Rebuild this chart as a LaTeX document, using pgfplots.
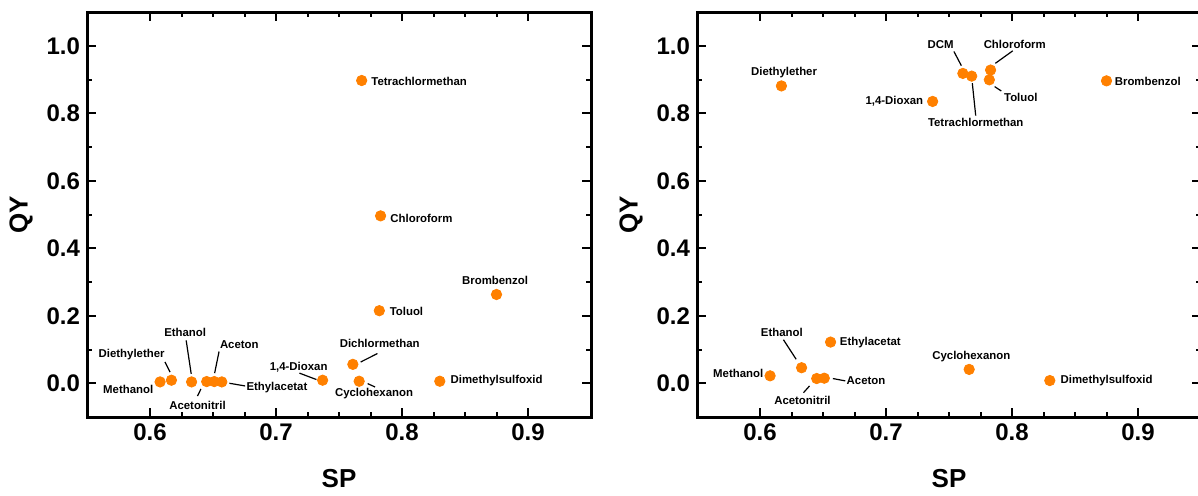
\documentclass[border=0pt]{standalone}
\usepackage{pgfplots}
\pgfplotsset{compat=1.18}
\usepackage{fontspec}
\setmainfont{Liberation Sans}
\definecolor{pt}{RGB}{255,128,0}
\pgfplotsset{
  myax/.style={
    scale only axis, width=252pt, height=202.5pt, anchor=south west,
    xmin=0.55, xmax=0.95, ymin=-0.1, ymax=1.1,
    xtick={0.6,0.7,0.8,0.9}, minor x tick num=3,
    ytick={0,0.2,0.4,0.6,0.8,1.0}, minor y tick num=1,
    tick align=inside,
    major tick length=4.5pt, minor tick length=2.5pt,
    axis line style={line width=1.5pt},
    every tick/.style={black, line width=1pt},
    /pgf/number format/assume math mode=true,
    ticklabel style={font=\bfseries\fontsize{12}{14}\selectfont},
    yticklabel style={/pgf/number format/.cd, fixed, fixed zerofill, precision=1},
    xticklabel style={/pgf/number format/.cd, fixed, precision=1},
    label style={font=\bfseries\fontsize{13}{15}\selectfont},
    xlabel style={yshift=-7.5pt},
    xlabel={SP}, ylabel={QY},
    clip=false,
  },
}
\tikzset{
  lab/.style={font=\bfseries\fontsize{5.7}{7}\selectfont, inner sep=0.5pt},
  ln/.style={line width=0.6pt, black},
}
\begin{document}
\begin{tikzpicture}
\begin{axis}[myax, at={(43.5pt,39pt)}]
\addplot[only marks, mark=*, mark size=2.6pt, color=pt] table {
x y
0.768 0.897
0.783 0.496
0.782 0.215
0.875 0.263
0.761 0.056
0.737 0.009
0.766 0.006
0.830 0.006
0.608 0.004
0.617 0.009
0.633 0.004
0.645 0.005
0.651 0.005
0.657 0.004
};
\node[lab, anchor=west] at (axis cs:0.7746,0.894) {Tetrachlormethan};
\node[lab, anchor=west] at (axis cs:0.7897,0.489) {Chloroform};
\node[lab, anchor=west] at (axis cs:0.7892,0.213) {Toluol};
\node[lab] at (axis cs:0.8739,0.304) {Brombenzol};
\node[lab] at (axis cs:0.7823,0.117) {Dichlormethan};
\draw[ln] (axis cs:0.7672,0.063) -- (axis cs:0.7805,0.088);
\node[lab] at (axis cs:0.718,0.048) {1,4-Dioxan};
\draw[ln] (axis cs:0.7186,0.030) -- (axis cs:0.7321,0.011);
\node[lab] at (axis cs:0.7778,-0.030) {Cyclohexanon};
\draw[ln] (axis cs:0.7727,-0.001) -- (axis cs:0.7786,-0.011);
\node[lab, anchor=west] at (axis cs:0.8375,0.0068) {Dimethylsulfoxid};
\node[lab] at (axis cs:0.5827,-0.018) {Methanol};
\node[lab] at (axis cs:0.5854,0.085) {Diethylether};
\draw[ln] (axis cs:0.6119,0.063) -- (axis cs:0.6159,0.033);
\node[lab] at (axis cs:0.6279,0.150) {Ethanol};
\draw[ln] (axis cs:0.6287,0.127) -- (axis cs:0.6327,0.028);
\node[lab] at (axis cs:0.6709,0.115) {Aceton};
\draw[ln] (axis cs:0.6548,0.094) -- (axis cs:0.6513,0.030);
\node[lab] at (axis cs:0.6377,-0.065) {Acetonitril};
\draw[ln] (axis cs:0.6377,-0.038) -- (axis cs:0.6404,-0.017);
\node[lab, anchor=west] at (axis cs:0.6755,-0.012) {Ethylacetat};
\draw[ln] (axis cs:0.6630,0.000) -- (axis cs:0.6755,-0.008);
\end{axis}
\begin{axis}[myax, at={(348.5pt,39pt)}]
\addplot[only marks, mark=*, mark size=2.6pt, color=pt] table {
x y
0.617 0.881
0.761 0.918
0.768 0.910
0.783 0.928
0.782 0.899
0.875 0.896
0.737 0.835
0.608 0.022
0.633 0.046
0.645 0.014
0.651 0.015
0.656 0.122
0.766 0.041
0.830 0.008
};
\node[lab] at (axis cs:0.6191,0.920) {Diethylether};
\node[lab] at (axis cs:0.7433,1.004) {DCM};
\draw[ln] (axis cs:0.7539,0.983) -- (axis cs:0.7598,0.941);
\node[lab] at (axis cs:0.8022,1.005) {Chloroform};
\draw[ln] (axis cs:0.8006,0.985) -- (axis cs:0.7868,0.948);
\node[lab] at (axis cs:0.807,0.8475) {Toluol};
\draw[ln] (axis cs:0.7862,0.879) -- (axis cs:0.7915,0.866);
\node[lab] at (axis cs:0.7712,0.774) {Tetrachlormethan};
\draw[ln] (axis cs:0.7685,0.889) -- (axis cs:0.7712,0.793);
\node[lab, anchor=east] at (axis cs:0.7306,0.835) {1,4-Dioxan};
\node[lab, anchor=west] at (axis cs:0.8805,0.894) {Brombenzol};
\node[lab] at (axis cs:0.6173,0.151) {Ethanol};
\draw[ln] (axis cs:0.6186,0.129) -- (axis cs:0.6287,0.071);
\node[lab, anchor=west] at (axis cs:0.6623,0.122) {Ethylacetat};
\node[lab] at (axis cs:0.5827,0.0285) {Methanol};
\node[lab, anchor=west] at (axis cs:0.6677,0.007) {Aceton};
\draw[ln] (axis cs:0.6578,0.014) -- (axis cs:0.6677,0.007);
\node[lab] at (axis cs:0.6337,-0.050) {Acetonitril};
\draw[ln] (axis cs:0.6345,-0.028) -- (axis cs:0.6393,-0.008);
\node[lab] at (axis cs:0.7677,0.080) {Cyclohexanon};
\node[lab, anchor=west] at (axis cs:0.8375,0.008) {Dimethylsulfoxid};
\end{axis}
\pgfresetboundingbox
\path (0,0) rectangle (599pt,247.5pt);
\end{tikzpicture}
\end{document}
